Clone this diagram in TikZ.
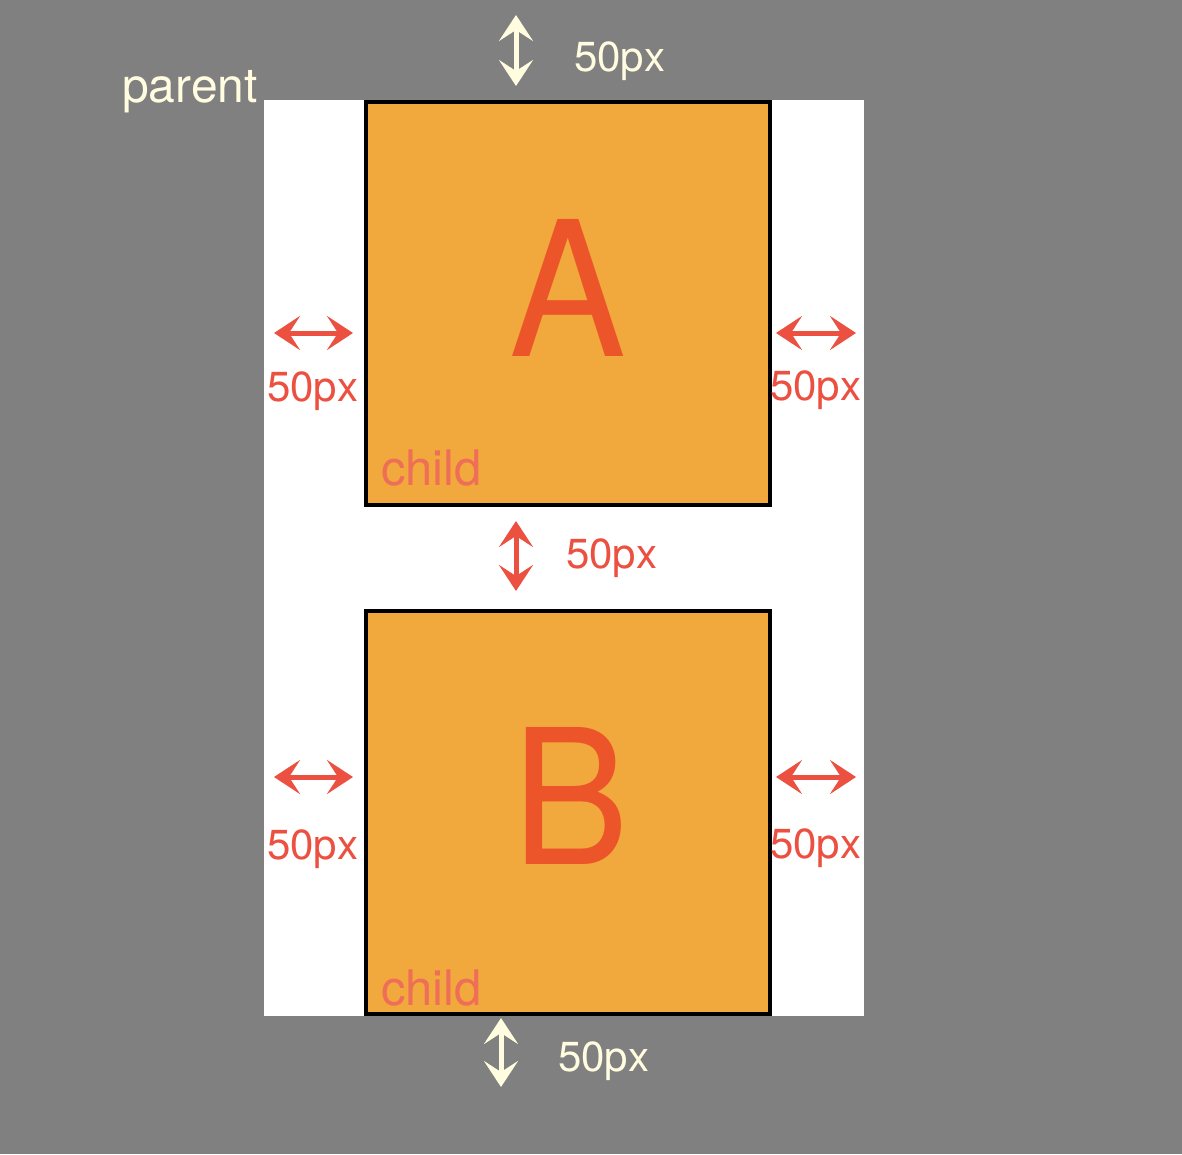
\documentclass[tikz,border=0pt]{standalone}
\usepackage{fontspec}
\setmainfont{TeX Gyre Heros}
\usetikzlibrary{arrows.meta}
\definecolor{bgGray}{HTML}{808080}
\definecolor{boxOrange}{HTML}{F1A83C}
\definecolor{letterRed}{HTML}{EC5529}
\definecolor{arrowRed}{HTML}{EC5040}
\definecolor{childRed}{HTML}{EE6E58}
\definecolor{cream}{HTML}{FFFCE0}
\tikzset{
  childBox/.style={rectangle, draw=black, line width=4pt, fill=boxOrange, minimum width=404pt, minimum height=403pt, inner sep=0pt},
  pxLabel/.style={anchor=base west, inner sep=0pt, font=\fontsize{42}{50}\selectfont},
  bigLetter/.style={anchor=base, inner sep=0pt, text=letterRed, font=\fontsize{188}{200}\selectfont},
  childLabel/.style={anchor=base west, inner sep=0pt, text=childRed, font=\fontsize{49}{58}\selectfont},
  gapArrow/.style={line width=5pt, {Stealth[length=26pt, width=34pt, inset=11pt]}-{Stealth[length=26pt, width=34pt, inset=11pt]}}
}
\begin{document}
\begin{tikzpicture}[x=1pt, y=-1pt]
  \fill[bgGray] (0,0) rectangle (1182,1154);
  \node[rectangle, fill=white, minimum width=600pt, minimum height=916pt, inner sep=0pt] (parentBox) at (564,558) {};
  \node[anchor=base west, inner sep=0pt, text=cream, font=\fontsize{48}{58}\selectfont] (parentLabel) at (122,102) {parent};
  % children
  \node[childBox] (childA) at (568,303.5) {};
  \node[childBox] (childB) at (568,812) {};
  \node[bigLetter, xscale=0.93] (letterA) at (568,356) {A};
  \node[bigLetter, xscale=0.93] (letterB) at (571,864) {B};
  \node[childLabel] (childLabelA) at (381,485) {child};
  \node[childLabel] (childLabelB) at (381,1005) {child};
  % arrow ends
  \coordinate (topGapS) at (516,15);   \coordinate (topGapE) at (516,86);
  \coordinate (midGapS) at (516,521);  \coordinate (midGapE) at (516,591);
  \coordinate (botGapS) at (501,1018); \coordinate (botGapE) at (501,1087);
  \coordinate (leftGapAS) at (274,333);  \coordinate (leftGapAE) at (353,333);
  \coordinate (rightGapAS) at (776,333); \coordinate (rightGapAE) at (856,333);
  \coordinate (leftGapBS) at (274,777);  \coordinate (leftGapBE) at (353,777);
  \coordinate (rightGapBS) at (776,777); \coordinate (rightGapBE) at (856,777);
  \draw[gapArrow, cream] (topGapS) -- (topGapE);
  \draw[gapArrow, cream] (botGapS) -- (botGapE);
  \draw[gapArrow, arrowRed] (midGapS) -- (midGapE);
  \draw[gapArrow, arrowRed] (leftGapAS) -- (leftGapAE);
  \draw[gapArrow, arrowRed] (rightGapAS) -- (rightGapAE);
  \draw[gapArrow, arrowRed] (leftGapBS) -- (leftGapBE);
  \draw[gapArrow, arrowRed] (rightGapBS) -- (rightGapBE);
  % labels
  \node[pxLabel, text=cream] (topGapLabel) at (574,71) {50px};
  \node[pxLabel, text=arrowRed] (midGapLabel) at (566,568) {50px};
  \node[pxLabel, text=cream] (botGapLabel) at (558,1071) {50px};
  \node[pxLabel, text=arrowRed] (leftGapALabel) at (267,401) {50px};
  \node[pxLabel, text=arrowRed] (rightGapALabel) at (770,400) {50px};
  \node[pxLabel, text=arrowRed] (leftGapBLabel) at (267,859) {50px};
  \node[pxLabel, text=arrowRed] (rightGapBLabel) at (770,858) {50px};
\end{tikzpicture}
\end{document}
